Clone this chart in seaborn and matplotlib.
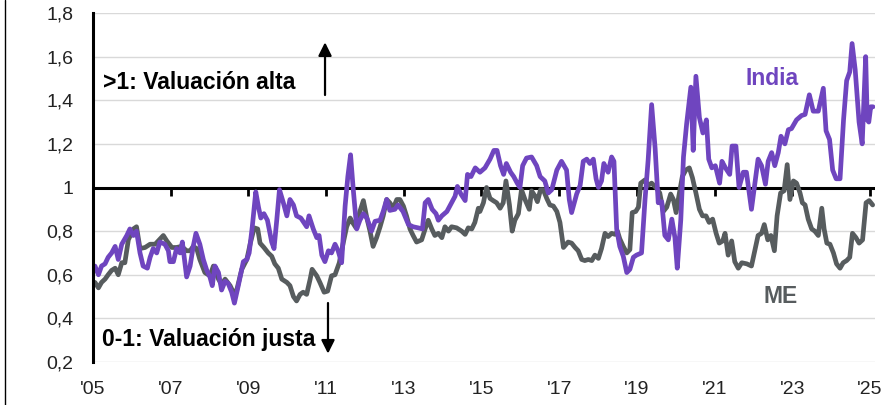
import numpy as np
import pandas as pd
import matplotlib
matplotlib.use("Agg")
import matplotlib.pyplot as plt
import seaborn as sns
from matplotlib.lines import Line2D

# ---------------- data (years as decimal offsets from 2005) ----------------
india_t = [0.05, 0.14, 0.22, 0.31, 0.39, 0.48, 0.57, 0.65, 0.74, 0.87, 0.95, 1.04, 1.12, 1.21, 1.29,
           1.40, 1.47, 1.55, 1.64, 1.72, 1.85, 1.94, 1.98, 2.07, 2.15, 2.24, 2.30, 2.41, 2.50, 2.58,
           2.65, 2.75, 2.84, 2.93, 3.01, 3.07, 3.14, 3.23, 3.31, 3.40, 3.48, 3.57, 3.64, 3.74, 3.87,
           3.96, 4.02, 4.10, 4.19, 4.26, 4.32, 4.40, 4.49, 4.60, 4.66, 4.73, 4.80, 4.90, 4.99, 5.07,
           5.16, 5.24, 5.35, 5.50, 5.56, 5.67, 5.76, 5.82, 5.89, 5.97, 6.06, 6.14, 6.23, 6.31, 6.40,
           6.49, 6.56, 6.63, 6.70, 6.79, 6.87, 6.96, 7.05, 7.17, 7.26, 7.39, 7.47, 7.56, 7.64, 7.77,
           7.85, 7.98, 8.12, 8.24, 8.37, 8.48, 8.55, 8.63, 8.73, 8.83, 8.89, 8.98, 9.11, 9.23, 9.32,
           9.38, 9.47, 9.58, 9.64, 9.73, 9.84, 9.96, 10.09, 10.22, 10.32, 10.40, 10.49, 10.57, 10.64,
           10.75, 10.83, 10.92, 10.99, 11.06, 11.16, 11.29, 11.42, 11.51, 11.63, 11.72, 11.81, 11.94,
           12.06, 12.19, 12.26, 12.32, 12.45, 12.54, 12.62, 12.71, 12.79, 12.88, 12.95, 13.01, 13.09,
           13.15, 13.26, 13.35, 13.41, 13.48, 13.56, 13.65, 13.74, 13.82, 13.91, 13.99, 14.12, 14.21,
           14.29, 14.38, 14.47, 14.55, 14.64, 14.72, 14.81, 14.90, 14.98, 15.04, 15.13, 15.20, 15.28,
           15.39, 15.45, 15.52, 15.61, 15.70, 15.79, 15.85, 15.93, 16.02, 16.13, 16.19, 16.28, 16.39,
           16.45, 16.55, 16.63, 16.74, 16.82, 16.95, 17.04, 17.12, 17.21, 17.31, 17.38, 17.47, 17.55,
           17.64, 17.71, 17.81, 17.90, 17.98, 18.11, 18.24, 18.33, 18.44, 18.54, 18.67, 18.80, 18.87,
           18.96, 19.04, 19.13, 19.23, 19.32, 19.40, 19.48, 19.54, 19.62, 19.72, 19.80, 19.89, 19.93,
           19.97, 20.02, 20.08]
india_v = [0.64, 0.60, 0.64, 0.65, 0.68, 0.70, 0.73, 0.67, 0.74, 0.78, 0.81, 0.78, 0.80, 0.70, 0.64,
           0.63, 0.68, 0.72, 0.70, 0.75, 0.74, 0.71, 0.66, 0.66, 0.72, 0.70, 0.75, 0.59, 0.64, 0.73,
           0.79, 0.74, 0.67, 0.62, 0.59, 0.55, 0.64, 0.61, 0.53, 0.57, 0.56, 0.52, 0.47, 0.55, 0.66,
           0.67, 0.70, 0.82, 0.98, 0.91, 0.86, 0.88, 0.85, 0.75, 0.72, 0.85, 0.99, 0.93, 0.87, 0.945,
           0.92, 0.87, 0.86, 0.82, 0.87, 0.81, 0.77, 0.78, 0.69, 0.66, 0.71, 0.70, 0.74, 0.71, 0.655,
           0.915, 1.05, 1.15, 0.99, 0.81, 0.85, 0.88, 0.86, 0.80, 0.845, 0.85, 0.89, 0.945, 0.895, 0.90,
           0.92, 0.89, 0.83, 0.82, 0.815, 0.81, 0.93, 0.945, 0.90, 0.88, 0.85, 0.87, 0.89, 0.93, 0.96,
           1.005, 0.97, 0.94, 1.06, 1.05, 1.09, 1.07, 1.09, 1.13, 1.17, 1.17, 1.10, 1.06, 1.11,
           1.07, 1.05, 1.02, 1.00, 1.10, 1.135, 1.14, 1.10, 1.05, 1.03, 0.975, 0.99, 1.08,
           1.12, 1.08, 0.945, 0.885, 0.97, 1.01, 1.12, 1.13, 1.11, 1.13, 1.04, 1.00, 1.03,
           1.11, 1.07, 1.14, 1.12, 0.81, 0.73, 0.685, 0.61, 0.625, 0.68, 0.69, 0.70, 0.945,
           1.125, 1.38, 1.18, 0.93, 0.935, 0.78, 0.76, 0.855, 0.77, 0.63, 0.85, 1.14, 1.29,
           1.46, 1.17, 1.51, 1.32, 1.25, 1.31, 1.13, 1.09, 1.10, 1.02, 1.12, 1.09, 1.06,
           1.19, 1.19, 1.00, 1.07, 1.07, 0.90, 1.02, 1.13, 1.10, 1.015, 1.12, 1.16, 1.10,
           1.16, 1.235, 1.20, 1.265, 1.27, 1.31, 1.33, 1.335, 1.425, 1.35, 1.35, 1.455, 1.26,
           1.22, 1.08, 1.04, 1.04, 1.31, 1.49, 1.53, 1.66, 1.54, 1.30, 1.20, 1.60, 1.31,
           1.30, 1.37, 1.37]

me_t = [0.05, 0.14, 0.22, 0.31, 0.39, 0.48, 0.57, 0.65, 0.74, 0.82, 0.91, 1.04, 1.12, 1.21, 1.34,
        1.47, 1.60, 1.68, 1.81, 1.90, 2.03, 2.15, 2.28, 2.41, 2.50, 2.58, 2.67, 2.75, 2.88, 3.01,
        3.10, 3.23, 3.31, 3.40, 3.53, 3.61, 3.70, 3.83, 3.96, 4.05, 4.15, 4.24, 4.30, 4.40, 4.51,
        4.60, 4.68, 4.77, 4.86, 4.99, 5.07, 5.16, 5.24, 5.33, 5.41, 5.50, 5.59, 5.64, 5.76, 5.84,
        5.95, 6.04, 6.14, 6.23, 6.34, 6.44, 6.53, 6.62, 6.68, 6.77, 6.87, 6.96, 7.05, 7.13, 7.21,
        7.30, 7.39, 7.47, 7.56, 7.64, 7.73, 7.82, 7.90, 7.99, 8.07, 8.16, 8.24, 8.33, 8.46, 8.55,
        8.63, 8.72, 8.80, 8.89, 8.98, 9.06, 9.15, 9.23, 9.36, 9.49, 9.58, 9.66, 9.75, 9.83, 9.92,
        9.96, 10.05, 10.13, 10.22, 10.30, 10.39, 10.48, 10.56, 10.63, 10.72, 10.79, 10.86, 10.95,
        11.03, 11.12, 11.23, 11.29, 11.38, 11.44, 11.52, 11.59, 11.68, 11.76, 11.85, 11.94, 12.02,
        12.11, 12.18, 12.23, 12.32, 12.41, 12.49, 12.58, 12.66, 12.75, 12.84, 12.92, 13.01, 13.09,
        13.18, 13.26, 13.35, 13.44, 13.50, 13.56, 13.65, 13.74, 13.82, 13.88, 13.97, 14.04, 14.10,
        14.21, 14.29, 14.38, 14.49, 14.59, 14.68, 14.77, 14.87, 14.94, 15.01, 15.08, 15.17, 15.26,
        15.35, 15.43, 15.52, 15.61, 15.69, 15.78, 15.86, 15.95, 16.04, 16.12, 16.21, 16.27, 16.35,
        16.44, 16.52, 16.61, 16.70, 16.83, 16.95, 17.04, 17.12, 17.21, 17.28, 17.37, 17.45, 17.54,
        17.61, 17.70, 17.79, 17.87, 17.94, 18.03, 18.11, 18.20, 18.26, 18.33, 18.41, 18.50, 18.58,
        18.67, 18.76, 18.82, 18.89, 18.97, 19.06, 19.14, 19.23, 19.31, 19.40, 19.48, 19.55, 19.64,
        19.72, 19.81, 19.90, 19.98, 20.07]
me_v = [0.565, 0.54, 0.565, 0.58, 0.60, 0.62, 0.63, 0.60, 0.655, 0.655, 0.76, 0.81, 0.82, 0.72, 0.725,
        0.74, 0.74, 0.755, 0.78, 0.755, 0.725, 0.725, 0.73, 0.71, 0.71, 0.73, 0.72, 0.67, 0.61, 0.595,
        0.64, 0.58, 0.556, 0.58, 0.55, 0.52, 0.53, 0.625, 0.67, 0.745, 0.815, 0.81, 0.745, 0.725, 0.70,
        0.685, 0.65, 0.63, 0.58, 0.565, 0.55, 0.50, 0.48, 0.51, 0.52, 0.51, 0.58, 0.625, 0.595, 0.565,
        0.52, 0.525, 0.595, 0.60, 0.655, 0.745, 0.82, 0.86, 0.84, 0.815, 0.89, 0.94, 0.86, 0.80, 0.73,
        0.77, 0.82, 0.87, 0.945, 0.93, 0.905, 0.945, 0.945, 0.915, 0.87, 0.81, 0.78, 0.75, 0.76, 0.81,
        0.85, 0.81, 0.78, 0.79, 0.77, 0.82, 0.80, 0.82, 0.815, 0.80, 0.785, 0.815, 0.81, 0.84, 0.905,
        0.89, 0.93, 1.00, 0.95, 0.94, 0.93, 0.905, 0.93, 1.03, 0.92, 0.80, 0.85, 0.88,
        0.99, 0.945, 0.90, 0.985, 0.96, 0.935, 0.99, 0.99, 0.95, 0.92, 0.915, 0.89, 0.84,
        0.725, 0.74, 0.75, 0.745, 0.725, 0.71, 0.67, 0.665, 0.67, 0.665, 0.69, 0.675, 0.72,
        0.79, 0.775, 0.79, 0.785, 0.80, 0.765, 0.73, 0.70, 0.715, 0.885, 0.89, 0.91, 1.02,
        1.035, 1.01, 1.02, 1.00, 0.975, 0.89, 0.91, 0.97, 0.945, 0.885, 0.96, 1.05, 1.08,
        1.09, 1.045, 0.975, 0.90, 0.87, 0.87, 0.84, 0.855, 0.79, 0.745, 0.755, 0.79, 0.69,
        0.755, 0.66, 0.63, 0.655, 0.65, 0.64, 0.715, 0.78, 0.79, 0.83, 0.76, 0.78, 0.71,
        0.87, 0.975, 0.985, 1.105, 0.945, 1.03, 1.02, 0.975, 0.93, 0.92, 0.855, 0.81, 0.80,
        0.78, 0.905, 0.81, 0.745, 0.74, 0.70, 0.65, 0.63, 0.655, 0.665, 0.68, 0.79, 0.77,
        0.745, 0.76, 0.93, 0.94, 0.92]

start_year = 2005
series_names = ["ME", "India"]
x_ticks = [2005, 2007, 2009, 2011, 2013, 2015, 2017, 2019, 2021, 2023, 2025]
x_labels = ["'05", "'07", "'09", "'11", "'13", "'15", "'17", "'19", "'21", "'23", "'25"]
y_ticks = [0.2, 0.4, 0.6, 0.8, 1.0, 1.2, 1.4, 1.6, 1.8]
y_labels = ["0,2", "0,4", "0,6", "0,8", "1", "1,2", "1,4", "1,6", "1,8"]
txt_high = ">1: Valuación alta"
txt_fair = "0-1: Valuación justa"

# ---------------- build table ----------------
df = pd.concat([
    pd.DataFrame({"year": np.array(me_t) + start_year, "value": me_v, "series": "ME"}),
    pd.DataFrame({"year": np.array(india_t) + start_year, "value": india_v, "series": "India"}),
], ignore_index=True)

colors = {"India": "#6f45bf", "ME": "#575c5e"}

sns.set_style("white")
plt.rcParams["font.family"] = ["Liberation Sans", "DejaVu Sans"]

fig = plt.figure(figsize=(8.88, 4.05), dpi=100)
ax = fig.add_axes([93 / 888, 1 - 362 / 405, (875 - 93) / 888, (362 - 13) / 405])

sns.lineplot(data=df, x="year", y="value", hue="series", hue_order=series_names,
             palette=colors, linewidth=3.4, legend=False, ax=ax, zorder=3,
             estimator=None, sort=False)

ax.set_xlim(2005, 2025.13)
ax.set_ylim(0.2, 1.8)
ax.set_yticks(y_ticks)
ax.set_yticklabels(y_labels)
ax.set_xticks(x_ticks)
ax.set_xticklabels(x_labels)
ax.set_xlabel("")
ax.set_ylabel("")

ax.grid(axis="y", color="#d9d9d9", linewidth=1.0)
ax.grid(axis="x", visible=False)
ax.set_axisbelow(True)

for s in ["top", "right", "bottom"]:
    ax.spines[s].set_visible(False)
ax.spines["left"].set_color("black")
ax.spines["left"].set_linewidth(2.2)
ax.spines["left"].set_zorder(4)

ax.tick_params(axis="x", length=0, pad=14, labelsize=14, colors="#222222")
ax.tick_params(axis="y", length=0, pad=14, labelsize=14, colors="#222222")

# horizontal reference line at 1 with ticks
ax.axhline(1.0, color="black", linewidth=2.2, zorder=2.5)
sec = ax.secondary_xaxis(0.5)
sec.set_alignment("bottom")
sec.set_xticks(x_ticks)
sec.set_xticklabels([])
sec.tick_params(axis="x", direction="out", length=6, width=2, color="black")
for s in sec.spines.values():
    s.set_visible(False)

# annotations
ax.text(0.0128, 0.80, txt_high, transform=ax.transAxes, fontsize=16.5, fontweight="bold",
        va="center", ha="left", color="black")
ax.text(0.0115, 0.064, txt_fair, transform=ax.transAxes, fontsize=16.5, fontweight="bold",
        va="center", ha="left", color="black")
ax.annotate("", xy=(0.2967, 0.916), xytext=(0.2967, 0.765), xycoords="axes fraction",
            arrowprops=dict(arrowstyle="-|>", color="black", lw=1.6, mutation_scale=20,
                            shrinkA=0, shrinkB=0))
ax.annotate("", xy=(0.3005, 0.024), xytext=(0.3005, 0.169), xycoords="axes fraction",
            arrowprops=dict(arrowstyle="-|>", color="black", lw=1.6, mutation_scale=20,
                            shrinkA=0, shrinkB=0))
ax.text(0.869, 0.811, "India", transform=ax.transAxes, fontsize=16.5, fontweight="bold",
        color=colors["India"], ha="center", va="center")
ax.text(0.879, 0.188, "ME", transform=ax.transAxes, fontsize=16.5, fontweight="bold",
        color=colors["ME"], ha="center", va="center")

# left border line of the chart frame
fig.add_artist(Line2D([5 / 888, 5 / 888], [0, 1], transform=fig.transFigure,
                      color="black", linewidth=1.0))

fig.savefig("out.png", dpi=100)
